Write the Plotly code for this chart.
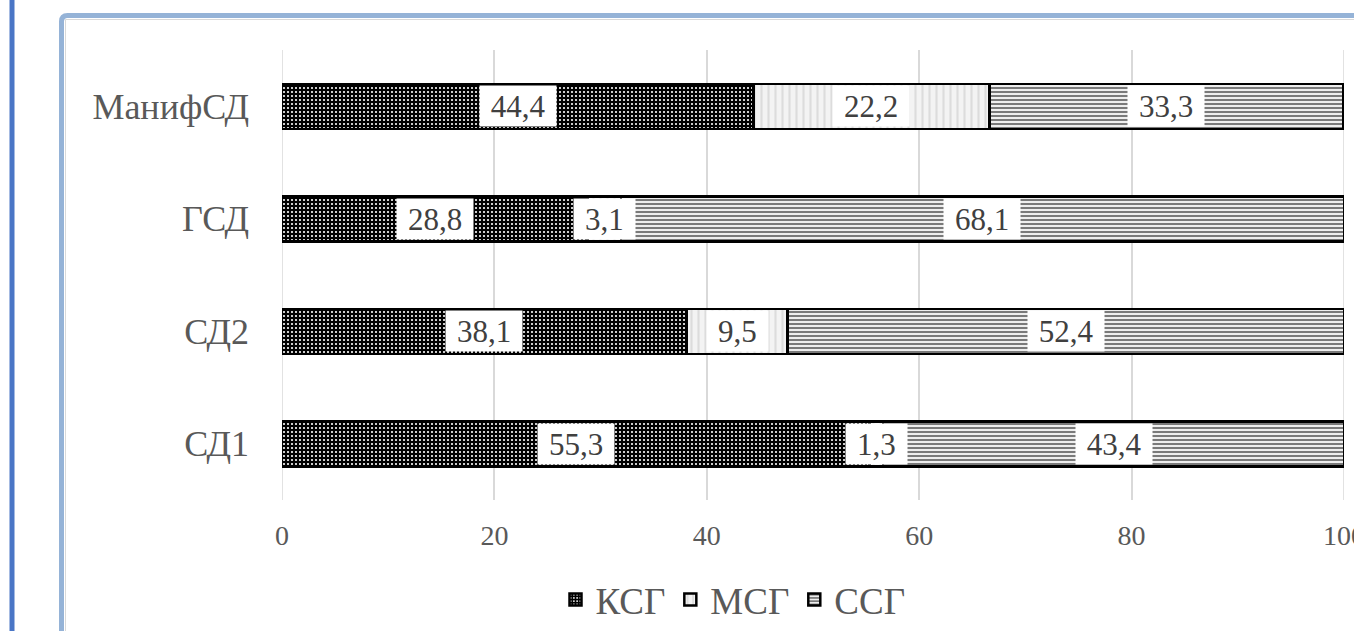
import plotly.graph_objects as go

categories = ["СД1", "СД2", "ГСД", "МанифСД"]
series_names = ["КСГ", "МСГ", "ССГ"]
ksg = [55.3, 38.1, 28.8, 44.4]
msg = [1.3, 9.5, 3.1, 22.2]
ssg = [43.4, 52.4, 68.1, 33.3]
x_ticks = [0, 20, 40, 60, 80, 100]

W, H = 1354, 631
ML, MR, MT, MB = 282, 10, 50, 131
PW = W - ML - MR
PH = H - MT - MB

def px_x(p):
    return (p - ML) / PW

def px_y(p):
    return (H - MB - p) / PH

serif = "Liberation Serif, Times New Roman, serif"
gray = "#595959"
LABEL_FS = 31

patterns = [
    dict(shape=".", fgcolor="#ffffff", bgcolor="#000000", size=4, solidity=0.22, fillmode="replace"),
    dict(shape="|", fgcolor="#dcdcdc", bgcolor="#f3f3f3", size=7, solidity=0.3, fillmode="replace"),
    dict(shape="-", fgcolor="#7a7a7a", bgcolor="#eeeeee", size=4, solidity=0.5, fillmode="replace"),
]
colors = ["#000000", "#f3f3f3", "#eeeeee"]
series_vals = [ksg, msg, ssg]

fig = go.Figure()
for name, vals, pat, col in zip(series_names, series_vals, patterns, colors):
    fig.add_trace(go.Bar(
        y=categories, x=vals, name=name, orientation="h",
        width=0.4,
        marker=dict(color=col, pattern=pat, line=dict(color="#000000", width=2.5)),
        hoverinfo="x+y",
    ))

def fmt(v):
    return f"{v:.1f}".replace(".", ",")

def text_w(s, fs=LABEL_FS):
    w = 0
    for ch in s:
        w += 0.25 * fs if ch == "," else 0.5 * fs
    return w

for ci, cat in enumerate(categories):
    base = 0
    for vals in series_vals:
        v = vals[ci]
        t = fmt(v)
        fig.add_annotation(
            x=base + v / 2, y=cat, xref="x", yref="y", text=t, showarrow=False,
            font=dict(family=serif, size=LABEL_FS, color="#404040"),
            bgcolor="#ffffff", width=text_w(t) + 22, height=40, borderpad=0,
        )
        base += v

shapes = []
for xv in (x_ticks[0], x_ticks[-1]):
    shapes.append(dict(type="line", xref="x", yref="paper", x0=xv, x1=xv, y0=0, y1=1,
                       layer="below", line=dict(color="#d9d9d9", width=1.5)))
shapes.append(dict(type="line", xref="paper", yref="paper",
                   x0=px_x(12), x1=px_x(12), y0=px_y(0), y1=px_y(H),
                   line=dict(color="#4a76c6", width=5)))
r = 6
x0 = px_x(61.5); yt = px_y(15.5)
path = (f"M {x0},{px_y(H + 5)} L {x0},{px_y(15.5 + r)} "
        f"Q {x0},{yt} {px_x(61.5 + r)},{yt} L {px_x(W + 5)},{yt}")
shapes.append(dict(type="path", xref="paper", yref="paper", path=path,
                   line=dict(color="#95b3d7", width=5)))
path2 = (f"M {px_x(65.5)},{px_y(H + 5)} L {px_x(65.5)},{px_y(19.5)} L {px_x(W + 5)},{px_y(19.5)}")
shapes.append(dict(type="path", xref="paper", yref="paper", path=path2,
                   line=dict(color="#d9d9d9", width=1)))

fig.update_layout(
    width=W, height=H,
    margin=dict(l=ML, r=MR, t=MT, b=MB, pad=0, autoexpand=False),
    barmode="stack",
    paper_bgcolor="#ffffff", plot_bgcolor="#ffffff",
    shapes=shapes,
    showlegend=True,
    legend=dict(orientation="h", x=px_x(733), xanchor="center", y=px_y(600), yanchor="middle",
                font=dict(family=serif, size=37, color=gray), itemwidth=30,
                traceorder="normal"),
    xaxis=dict(range=[0, 100], tickvals=x_ticks, showgrid=True, gridcolor="#d9d9d9", gridwidth=1.5,
               zeroline=False, showline=False, ticks="", ticklabelstandoff=16,
               ticklabeloverflow="allow", automargin=False,
               tickfont=dict(family=serif, size=28, color=gray), fixedrange=True),
    yaxis=dict(categoryorder="array", categoryarray=categories, range=[-0.5, 3.5],
               showgrid=False, zeroline=False, showline=False, ticks="", ticklabelstandoff=32,
               automargin=False,
               tickfont=dict(family=serif, size=36, color=gray), fixedrange=True),
    hovermode=False,
)

fig.write_html("out.html")
